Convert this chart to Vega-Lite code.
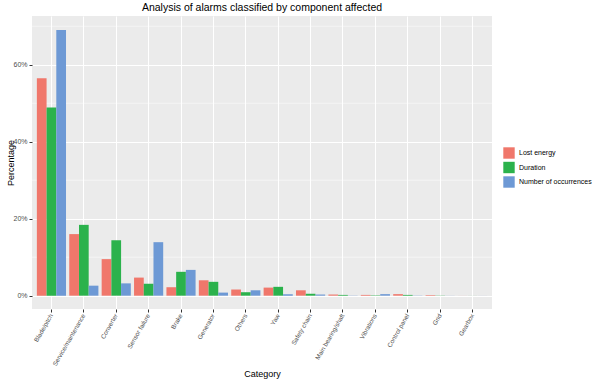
{
  "$schema": "https://vega.github.io/schema/vega-lite/v6.json",
  "width": 460,
  "height": 293,
  "autosize": {"type": "none"},
  "padding": {"left": 32, "top": 16, "right": 108, "bottom": 73},
  "background": "white",
  "title": {"text": "Analysis of alarms classified by component affected", "fontSize": 10.5, "font": "Liberation Sans", "fontWeight": "normal", "color": "#000000", "anchor": "middle", "offset": 3},
  "config": {
    "view": {"fill": "#EBEBEB", "stroke": null},
    "font": "Liberation Sans"
  },
  "datasets": {
    "bars": [
      {"category": "Blade/pitch", "measure": "Lost energy", "value": 0.565},
      {"category": "Blade/pitch", "measure": "Duration", "value": 0.489},
      {"category": "Blade/pitch", "measure": "Number of occurrences", "value": 0.69},
      {"category": "Service/maintenance", "measure": "Lost energy", "value": 0.160},
      {"category": "Service/maintenance", "measure": "Duration", "value": 0.184},
      {"category": "Service/maintenance", "measure": "Number of occurrences", "value": 0.026},
      {"category": "Converter", "measure": "Lost energy", "value": 0.095},
      {"category": "Converter", "measure": "Duration", "value": 0.144},
      {"category": "Converter", "measure": "Number of occurrences", "value": 0.032},
      {"category": "Sensor failure", "measure": "Lost energy", "value": 0.047},
      {"category": "Sensor failure", "measure": "Duration", "value": 0.031},
      {"category": "Sensor failure", "measure": "Number of occurrences", "value": 0.139},
      {"category": "Brake", "measure": "Lost energy", "value": 0.022},
      {"category": "Brake", "measure": "Duration", "value": 0.062},
      {"category": "Brake", "measure": "Number of occurrences", "value": 0.067},
      {"category": "Generator", "measure": "Lost energy", "value": 0.040},
      {"category": "Generator", "measure": "Duration", "value": 0.036},
      {"category": "Generator", "measure": "Number of occurrences", "value": 0.008},
      {"category": "Others", "measure": "Lost energy", "value": 0.016},
      {"category": "Others", "measure": "Duration", "value": 0.009},
      {"category": "Others", "measure": "Number of occurrences", "value": 0.014},
      {"category": "Yaw", "measure": "Lost energy", "value": 0.021},
      {"category": "Yaw", "measure": "Duration", "value": 0.023},
      {"category": "Yaw", "measure": "Number of occurrences", "value": 0.004},
      {"category": "Safety chain", "measure": "Lost energy", "value": 0.014},
      {"category": "Safety chain", "measure": "Duration", "value": 0.005},
      {"category": "Safety chain", "measure": "Number of occurrences", "value": 0.003},
      {"category": "Main bearing/shaft", "measure": "Lost energy", "value": 0.003},
      {"category": "Main bearing/shaft", "measure": "Duration", "value": 0.002},
      {"category": "Main bearing/shaft", "measure": "Number of occurrences", "value": 0.0005},
      {"category": "Vibrations", "measure": "Lost energy", "value": 0.002},
      {"category": "Vibrations", "measure": "Duration", "value": 0.001},
      {"category": "Vibrations", "measure": "Number of occurrences", "value": 0.004},
      {"category": "Control panel", "measure": "Lost energy", "value": 0.004},
      {"category": "Control panel", "measure": "Duration", "value": 0.002},
      {"category": "Control panel", "measure": "Number of occurrences", "value": 0.0005},
      {"category": "Grid", "measure": "Lost energy", "value": 0.0015},
      {"category": "Grid", "measure": "Duration", "value": 0.0005},
      {"category": "Grid", "measure": "Number of occurrences", "value": 0.0002},
      {"category": "Gearbox", "measure": "Lost energy", "value": 0.0001},
      {"category": "Gearbox", "measure": "Duration", "value": 0.0001},
      {"category": "Gearbox", "measure": "Number of occurrences", "value": 0.0001}
    ],
    "minor": [{"v": 0.1}, {"v": 0.3}, {"v": 0.5}, {"v": 0.7}]
  },
  "layer": [
    {
      "data": {"name": "minor"},
      "mark": {"type": "rule", "color": "#FFFFFF", "strokeWidth": 0.5},
      "encoding": {
        "y": {"field": "v", "type": "quantitative", "title": "Percentage", "scale": {"domain": [-0.0346, 0.7266], "nice": false, "zero": false}}
      }
    },
    {
      "data": {"name": "bars"},
      "mark": {"type": "bar"},
      "encoding": {
        "x": {
          "field": "category", "type": "nominal", "sort": null,
          "scale": {"paddingInner": 0.1, "paddingOuter": 0.15},
          "axis": {
            "title": "Category", "titleFontSize": 9, "titleFontWeight": "normal", "titleColor": "#000000",
            "titleY": 64, "titleBaseline": "middle",
            "labelAngle": -60, "labelAlign": "right", "labelBaseline": "middle",
            "labelFontSize": 6.3, "labelColor": "#4D4D4D", "labelPadding": 2,
            "tickColor": "#333333", "tickSize": 3, "domain": false,
            "grid": true, "gridColor": "#FFFFFF", "gridWidth": 1, "bandPosition": 0.5
          }
        },
        "xOffset": {"field": "measure", "type": "nominal", "sort": ["Lost energy", "Duration", "Number of occurrences"]},
        "y": {
          "field": "value", "type": "quantitative", "title": "Percentage",
          "axis": {
            "title": "Percentage", "titleFontSize": 9, "titleFontWeight": "normal", "titleColor": "#000000",
            "titleX": -22, "titleY": 146.5, "titleBaseline": "middle", "titleAlign": "center", "titleAngle": 270,
            "values": [0, 0.2, 0.4, 0.6], "format": ".0%",
            "labelFontSize": 7, "labelColor": "#4D4D4D", "labelPadding": 2,
            "tickColor": "#333333", "tickSize": 3, "domain": false,
            "grid": true, "gridColor": "#FFFFFF", "gridWidth": 1
          }
        },
        "color": {
          "field": "measure", "type": "nominal",
          "sort": ["Lost energy", "Duration", "Number of occurrences"],
          "scale": {"domain": ["Lost energy", "Duration", "Number of occurrences"], "range": ["#F0776B", "#2BB24C", "#6D99D5"]},
          "legend": {
            "title": null, "orient": "none", "legendX": 471, "legendY": 131,
            "symbolType": "square", "symbolSize": 130, "symbolStrokeWidth": 0,
            "labelFontSize": 7, "labelColor": "#000000", "rowPadding": 2.5,
            "padding": 0, "labelOffset": 4
          }
        }
      }
    }
  ]
}
